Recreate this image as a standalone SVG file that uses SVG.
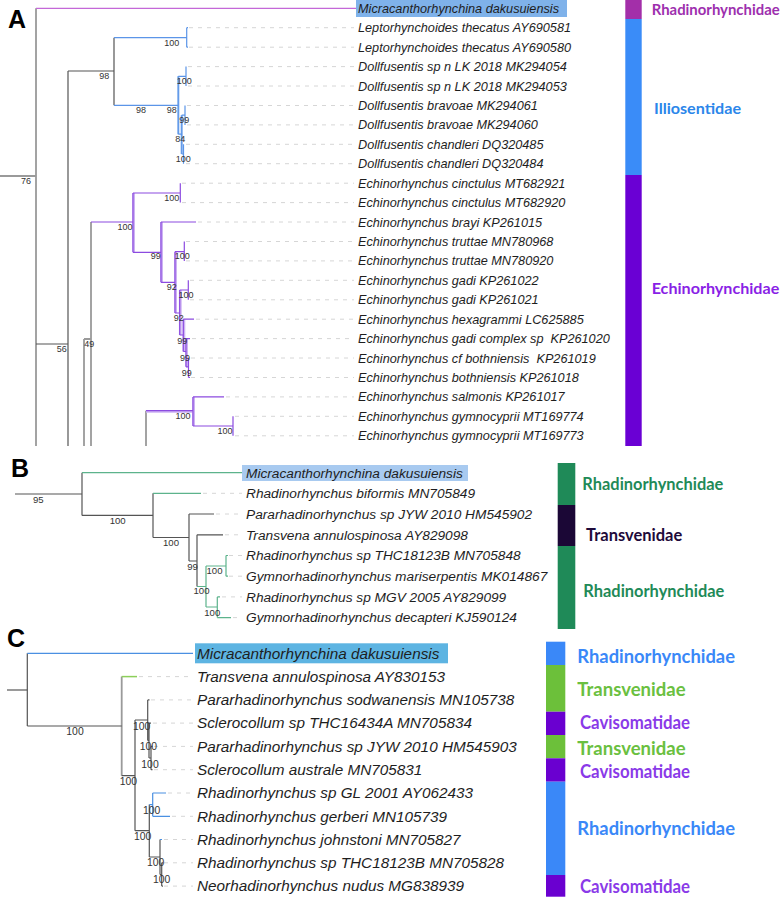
<svg xmlns="http://www.w3.org/2000/svg" width="784" height="898" viewBox="0 0 784 898">
<style>
.sp{font-family:"Liberation Sans",Arial,sans-serif;font-style:italic;fill:#1e1e1e}
.a{font-size:12.7px}.b{font-size:13.7px}.c{font-size:15.3px}
.bs{font-family:"Liberation Sans",Arial,sans-serif;fill:#333;text-anchor:middle}
.bsa{font-size:9px}.bsb{font-size:9.6px}.bsc{font-size:10.4px}
.cl{font-family:Lato,"Open Sans",sans-serif;font-weight:bold}
.lead{stroke:#d6d6d6;stroke-dasharray:4 5;stroke-width:1;fill:none}
.pl{font-family:"Liberation Sans",Arial,sans-serif;font-weight:bold;font-size:25px;fill:#000}
.g1{stroke:#555;stroke-width:1.2;fill:none}
.g2{stroke:#9a9a9a;stroke-width:1.8;fill:none}
.mg{stroke:#c468d8;stroke-width:1.2;fill:none}
.bl{stroke:#5b95e8;stroke-width:1.2;fill:none}
.blh{stroke:#b5d0f5;stroke-width:2.6;fill:none}
.pu{stroke:#8c4be0;stroke-width:1.2;fill:none}
.puh{stroke:#cdb3f3;stroke-width:2.8;fill:none}
.gr{stroke:#5cb38c;stroke-width:1.2;fill:none}
.cb{stroke:#4a90e2;stroke-width:1.2;fill:none}
.cg{stroke:#8ccf5a;stroke-width:1.5;fill:none}
</style>

<!-- panel letters -->
<text class="pl" x="8" y="28">A</text>
<text class="pl" x="11" y="477">B</text>
<text class="pl" x="7" y="647">C</text>

<g id="connectors">
  <!-- Panel A leaders -->
  <path class="lead" d="M189,27.7H354M189,47.2H354M188,66.6H354M188,86H354M187,105.5H354M187,124.9H354M186,144.3H354M186,163.7H354M182,183.2H354M182,202.6H354M198,222H354M186,241.5H354M186,260.9H354M190,280.3H354M190,299.8H354M196,319.2H354M192,338.6H354M191,358H354M191,377.5H354M226,396.9H354M235,416.3H354M235,435.8H354"/>
  <!-- Panel A tree -->
  <path class="g2" d="M0,176H36M36,8.3V446"/>
  <path class="g1" d="M36,344H68M68,71V446M68,71H114M114,37.7V105.3"/>
  <path class="g2" d="M84,339V446M84,339H91M91,222V446M146,410.7V446"/>
  <path class="mg" d="M36,8.3H356"/>
  <path class="blh" d="M178.3,76.3V134.2M181.7,115.2V154"/>
  <path class="bl" d="M114,37.7H186.7M186.7,27.7V47.2M186.7,27.7H188M186.7,47.2H188M114,105.3H178.3M178.3,76.3V134.2M178.3,76.3H186M186,66.6V86M178.3,134.2H181.7M181.7,115.2V154M181.7,115.2H185M185,105.5V124.9M181.7,154H183.5M183.5,144.3V163.7"/>
  <path class="puh" d="M133.6,193V252.3M161.6,222V282.3M175.6,251.7V313M180.3,290V335M183.9,319.2V351.5M186.6,338.6V366.8M193.6,396.9V426M146,411.4H193"/>
  <path class="pu" d="M91,222H133M133,193V252.3M133,193H180.3M180.3,183.2V202.6M133,252.3H161M161,222V282.3M161,222H196M161,282.3H175M175,251.7V313M175,251.7H184.3M184.3,241.5V260.9M175,313H179.7M179.7,290V335M179.7,290H188.3M188.3,280.3V299.8M179.7,335H183.3M183.3,319.2V351.5M183.3,319.2H194M183.3,351.5H186M186,338.6V366.8M186,338.6H190M186,366.8H188.5M188.5,358V377.5M188.5,377.5H190M146,410.7H193M193,396.9V426M193,396.9H224M193,426H233M233,416.3V435.8"/>

  <!-- Panel B leaders -->
  <path class="lead" d="M203,493.3H242M216,514H242M225,534.8H242M229,555.5H242M229,576.2H242M222,596.9H242M233,617.6H242"/>
  <!-- Panel B tree -->
  <path class="g1" d="M15,494H82M82,472.7V515.4M82,515.4H153M153,493.3V537.5M153,537.5H189M189,514V561M189,514H214M189,561H197M197,534.8V586.5M197,534.8H223"/>
  <path class="gr" d="M82,472.7H242M153,493.3H201M197,586.5H206M206,566V607M206,566H226M226,555.5V576.2M226,555.5H228M226,576.2H228M206,607H217.3M217.3,596.9V617.6M217.3,596.9H220M217.3,617.6H231"/>

  <!-- Panel C leaders -->
  <path class="lead" d="M139,676.6H193M151,699.9H193M153,723.1H193M154,746.4H193M154,769.7H193M168,793H193M172,816.3H193M164,839.5H193M164,862.8H193M164,886.1H193"/>
  <!-- Panel C tree -->
  <path class="g2" d="M7,690H27.3M121.7,676.6V775.7"/>
  <path class="g1" d="M27.3,653.3V726M27.3,726H121.7M121.7,775.7H135M135,720V830.7M135,720H147.7M147.7,699.9V740.6M147.7,699.9H149.5M147.7,740.6H149M149,723.1V758M149,723.1H151M149,758H151M151,746.4V769.7M151,746.4H152.5M151,769.7H152.5M135,830.7H149.3M149.3,804.6V857M149.3,857H160M160,839.5V874.5M160,874.5H161.7M161.7,862.8V886.1M161.7,862.8H163M161.7,886.1H163"/>
  <path class="cb" d="M27.3,653.3H193M149.3,804.6H152.7M152.7,793V816.3M152.7,793H166M152.7,816.3H170M160,839.5H162"/>
  <path class="cg" d="M121.7,676.6H137"/>
</g>

<!-- support values -->
<g id="support-A" class="bs bsa">
  <text x="171.7" y="45.5">100</text>
  <text x="104.3" y="79.2">98</text>
  <text x="141" y="113.2">98</text>
  <text x="171.7" y="113.2">98</text>
  <text x="184.3" y="84.2">100</text>
  <text x="184.3" y="122.5">99</text>
  <text x="180.3" y="142.2">84</text>
  <text x="183.3" y="161.5">100</text>
  <text x="26" y="184.2">76</text>
  <text x="171.7" y="200.5">100</text>
  <text x="125" y="229.9">100</text>
  <text x="155.7" y="259.2">99</text>
  <text x="182.3" y="258.9">100</text>
  <text x="171.7" y="289.9">92</text>
  <text x="186" y="297.5">100</text>
  <text x="178.7" y="320.5">92</text>
  <text x="182.3" y="343.9">99</text>
  <text x="185" y="360.5">99</text>
  <text x="186.7" y="375.5">99</text>
  <text x="61.7" y="352.2">56</text>
  <text x="89.3" y="347.2">49</text>
  <text x="183" y="418.9">100</text>
  <text x="225" y="433.5">100</text>
</g>
<g id="support-B" class="bs bsb">
  <text x="38.3" y="503">95</text>
  <text x="117.7" y="524.4">100</text>
  <text x="171" y="546.4">100</text>
  <text x="192.5" y="569.9">99</text>
  <text x="214.5" y="574.4">100</text>
  <text x="201.5" y="594.4">100</text>
  <text x="212.3" y="615.5">100</text>
</g>
<g id="support-C" class="bs bsc">
  <text x="75" y="735.4">100</text>
  <text x="141.7" y="729.7">100</text>
  <text x="148.3" y="749.7">100</text>
  <text x="150" y="767.7">100</text>
  <text x="128.3" y="784.7">100</text>
  <text x="151.7" y="814">100</text>
  <text x="142.7" y="839.7">100</text>
  <text x="155.7" y="866">100</text>
  <text x="161.7" y="883">100</text>
</g>

<!-- Panel A tips -->
<g id="A-tips" class="sp a">
  <g id="A-micra"><rect x="356" y="0" width="211" height="17" fill="#7fb2ea"/><text x="358" y="12.8">Micracanthorhynchina dakusuiensis</text></g>
  <g id="A-t1"><text x="358" y="32.2">Leptorhynchoides thecatus AY690581</text></g>
  <g id="A-t2"><text x="358" y="51.7">Leptorhynchoides thecatus AY690580</text></g>
  <g id="A-t3"><text x="358" y="71.1">Dollfusentis sp n LK 2018 MK294054</text></g>
  <g id="A-t4"><text x="358" y="90.5">Dollfusentis sp n LK 2018 MK294053</text></g>
  <g id="A-t5"><text x="358" y="110">Dollfusentis bravoae MK294061</text></g>
  <g id="A-t6"><text x="358" y="129.4">Dollfusentis bravoae MK294060</text></g>
  <g id="A-t7"><text x="358" y="148.8">Dollfusentis chandleri DQ320485</text></g>
  <g id="A-t8"><text x="358" y="168.2">Dollfusentis chandleri DQ320484</text></g>
  <g id="A-t9"><text x="358" y="187.7">Echinorhynchus cinctulus MT682921</text></g>
  <g id="A-t10"><text x="358" y="207.1">Echinorhynchus cinctulus MT682920</text></g>
  <g id="A-t11"><text x="358" y="226.5">Echinorhynchus brayi KP261015</text></g>
  <g id="A-t12"><text x="358" y="246">Echinorhynchus truttae MN780968</text></g>
  <g id="A-t13"><text x="358" y="265.4">Echinorhynchus truttae MN780920</text></g>
  <g id="A-t14"><text x="358" y="284.8">Echinorhynchus gadi KP261022</text></g>
  <g id="A-t15"><text x="358" y="304.3">Echinorhynchus gadi KP261021</text></g>
  <g id="A-t16"><text x="358" y="323.7">Echinorhynchus hexagrammi LC625885</text></g>
  <g id="A-t17"><text x="358" y="343.1" xml:space="preserve">Echinorhynchus gadi complex sp  KP261020</text></g>
  <g id="A-t18"><text x="358" y="362.5" xml:space="preserve">Echinorhynchus cf bothniensis  KP261019</text></g>
  <g id="A-t19"><text x="358" y="382">Echinorhynchus bothniensis KP261018</text></g>
  <g id="A-t20"><text x="358" y="401.4">Echinorhynchus salmonis KP261017</text></g>
  <g id="A-t21"><text x="358" y="420.8">Echinorhynchus gymnocyprii MT169774</text></g>
  <g id="A-t22"><text x="358" y="440.3">Echinorhynchus gymnocyprii MT169773</text></g>
</g>

<!-- Panel B tips -->
<g id="B-tips" class="sp b">
  <g id="B-micra"><rect x="242" y="465" width="226" height="16" fill="#a8caf0"/><text x="246" y="477.5">Micracanthorhynchina dakusuiensis</text></g>
  <g id="B-t1"><text x="246" y="498.1">Rhadinorhynchus biformis MN705849</text></g>
  <g id="B-t2"><text x="246" y="518.8">Pararhadinorhynchus sp JYW 2010 HM545902</text></g>
  <g id="B-t3"><text x="246" y="539.6">Transvena annulospinosa AY829098</text></g>
  <g id="B-t4"><text x="246" y="560.3">Rhadinorhynchus sp THC18123B MN705848</text></g>
  <g id="B-t5"><text x="246" y="581">Gymnorhadinorhynchus mariserpentis MK014867</text></g>
  <g id="B-t6"><text x="246" y="601.7">Rhadinorhynchus sp MGV 2005 AY829099</text></g>
  <g id="B-t7"><text x="246" y="622.4">Gymnorhadinorhynchus decapteri KJ590124</text></g>
</g>

<!-- Panel C tips -->
<g id="C-tips" class="sp c">
  <g id="C-micra"><rect x="195" y="643.3" width="253" height="20" fill="#5db4e2"/><text x="197" y="658.6">Micracanthorhynchina dakusuiensis</text></g>
  <g id="C-t1"><text x="197" y="681.9">Transvena annulospinosa AY830153</text></g>
  <g id="C-t2"><text x="197" y="705.2">Pararhadinorhynchus sodwanensis MN105738</text></g>
  <g id="C-t3"><text x="197" y="728.4">Sclerocollum sp THC16434A MN705834</text></g>
  <g id="C-t4"><text x="197" y="751.7">Pararhadinorhynchus sp JYW 2010 HM545903</text></g>
  <g id="C-t5"><text x="197" y="775">Sclerocollum australe MN705831</text></g>
  <g id="C-t6"><text x="197" y="798.3">Rhadinorhynchus sp GL 2001 AY062433</text></g>
  <g id="C-t7"><text x="197" y="821.6">Rhadinorhynchus gerberi MN105739</text></g>
  <g id="C-t8"><text x="197" y="844.8">Rhadinorhynchus johnstoni MN705827</text></g>
  <g id="C-t9"><text x="197" y="868.1">Rhadinorhynchus sp THC18123B MN705828</text></g>
  <g id="C-t10"><text x="197" y="891.4">Neorhadinorhynchus nudus MG838939</text></g>
</g>

<!-- Clade bars A -->
<g id="A-clades" class="cl">
  <g id="A-rhad"><rect x="625.3" y="0" width="16.4" height="19" fill="#a32fa9"/><text x="651.7" y="15" font-size="15" fill="#9d2fae" textLength="128" lengthAdjust="spacingAndGlyphs">Rhadinorhynchidae</text></g>
  <g id="A-illio"><rect x="625.3" y="19" width="16.4" height="156" fill="#3a8cf8"/><text x="654" y="114" font-size="15.5" fill="#2b86ea" textLength="87" lengthAdjust="spacingAndGlyphs">Illiosentidae</text></g>
  <g id="A-echino"><rect x="625.3" y="175" width="16.4" height="271" fill="#6a00d4"/><text x="651.7" y="294.3" font-size="15.5" fill="#8a1fe6" textLength="127.6" lengthAdjust="spacingAndGlyphs">Echinorhynchidae</text></g>
</g>

<!-- Clade bars B -->
<g id="B-clades" class="cl">
  <g id="B-rhad1"><rect x="557.7" y="463" width="17.6" height="42" fill="#1f8a58"/><text x="582.3" y="489.8" font-size="16.5" fill="#1f8a58" textLength="141" lengthAdjust="spacingAndGlyphs">Rhadinorhynchidae</text></g>
  <g id="B-trans"><rect x="557.7" y="505" width="17.6" height="41" fill="#1b0736"/><text x="586" y="541.1" font-size="16.5" fill="#1e0a3a" textLength="96.3" lengthAdjust="spacingAndGlyphs">Transvenidae</text></g>
  <g id="B-rhad2"><rect x="557.7" y="546" width="17.6" height="83" fill="#1f8a58"/><text x="583.3" y="596.8" font-size="16.5" fill="#1f8a58" textLength="141" lengthAdjust="spacingAndGlyphs">Rhadinorhynchidae</text></g>
</g>

<!-- Clade bars C -->
<g id="C-clades" class="cl">
  <g id="C-rhad1"><rect x="546" y="641.7" width="19.3" height="23.3" fill="#3a88f8"/><text x="577.3" y="663.2" font-size="18.5" fill="#3a88f8" textLength="157.7" lengthAdjust="spacingAndGlyphs">Rhadinorhynchidae</text></g>
  <g id="C-trans1"><rect x="546" y="665" width="19.3" height="46.7" fill="#6cc03a"/><text x="577.3" y="695.8" font-size="18.5" fill="#6ac040" textLength="108.3" lengthAdjust="spacingAndGlyphs">Transvenidae</text></g>
  <g id="C-cavi1"><rect x="546" y="711.7" width="19.3" height="23.3" fill="#6a00d0"/><text x="580" y="728.8" font-size="18.5" fill="#8a3ae8" textLength="110" lengthAdjust="spacingAndGlyphs">Cavisomatidae</text></g>
  <g id="C-trans2"><rect x="546" y="735" width="19.3" height="23.3" fill="#6cc03a"/><text x="577.3" y="754.8" font-size="18.5" fill="#6ac040" textLength="108.3" lengthAdjust="spacingAndGlyphs">Transvenidae</text></g>
  <g id="C-cavi2"><rect x="546" y="758.3" width="19.3" height="23.4" fill="#6a00d0"/><text x="580" y="778.2" font-size="18.5" fill="#8a3ae8" textLength="110" lengthAdjust="spacingAndGlyphs">Cavisomatidae</text></g>
  <g id="C-rhad2"><rect x="546" y="781.7" width="19.3" height="93.3" fill="#3a88f8"/><text x="577.3" y="834.8" font-size="18.5" fill="#3a88f8" textLength="157.7" lengthAdjust="spacingAndGlyphs">Rhadinorhynchidae</text></g>
  <g id="C-cavi3"><rect x="546" y="875" width="19.3" height="21.7" fill="#6a00d0"/><text x="580" y="893.2" font-size="18.5" fill="#8a3ae8" textLength="110" lengthAdjust="spacingAndGlyphs">Cavisomatidae</text></g>
</g>
</svg>
